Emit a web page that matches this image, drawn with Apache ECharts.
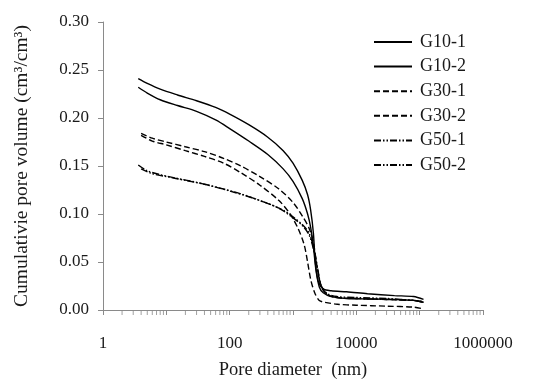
<!DOCTYPE html>
<html>
<head>
<meta charset="utf-8">
<script src="https://cdn.jsdelivr.net/npm/echarts@6/dist/echarts.min.js"></script>
<style>html,body{margin:0;padding:0;background:#fff}#c{width:550px;height:385px}</style>
</head>
<body>
<div id="c"></div>
<script>
// ---- data (pore diameter in nm, cumulative pore volume in cm3/cm3) ----
const g10_1_x = [3.6, 5, 8, 15, 30, 60, 100, 200, 400, 700, 1000, 1400, 1700, 1900, 2100, 2250, 2500, 3000, 4000, 7000, 15000, 40000, 80000, 115000];
const g10_1_y = [0.241, 0.236, 0.230, 0.224, 0.218, 0.211, 0.204, 0.193, 0.180, 0.166, 0.153, 0.135, 0.120, 0.104, 0.080, 0.050, 0.030, 0.022, 0.020, 0.019, 0.017, 0.015, 0.014, 0.011];
const g10_2_x = [3.6, 5, 8, 15, 30, 60, 100, 200, 400, 700, 1000, 1400, 1700, 1900, 2100, 2300, 2600, 3000, 4000, 7000, 15000, 40000, 80000, 115000];
const g10_2_y = [0.232, 0.226, 0.219, 0.213, 0.207, 0.198, 0.189, 0.176, 0.162, 0.147, 0.134, 0.116, 0.100, 0.086, 0.066, 0.042, 0.024, 0.018, 0.014, 0.012, 0.0115, 0.011, 0.010, 0.008];
const g30_1_x = [4, 6, 10, 20, 40, 80, 150, 300, 600, 1000, 1400, 1800, 2100, 2400, 2800, 3500, 5000, 10000, 30000, 80000, 115000];
const g30_1_y = [0.184, 0.179, 0.175, 0.170, 0.165, 0.158, 0.150, 0.139, 0.126, 0.112, 0.098, 0.085, 0.070, 0.045, 0.025, 0.016, 0.013, 0.012, 0.011, 0.010, 0.008];
const g30_2_x = [4, 6, 10, 20, 40, 80, 150, 300, 600, 900, 1200, 1500, 1700, 1900, 2200, 2600, 3200, 5000, 10000, 30000, 80000, 115000];
const g30_2_y = [0.182, 0.176, 0.172, 0.166, 0.160, 0.153, 0.143, 0.130, 0.114, 0.100, 0.085, 0.068, 0.050, 0.032, 0.018, 0.010, 0.008, 0.006, 0.005, 0.004, 0.003, 0.001];
const g50_1_x = [3.6, 5, 8, 15, 30, 60, 100, 200, 400, 700, 1000, 1400, 1800, 2200, 2500, 2800, 3500, 5000, 10000, 30000, 80000, 115000];
const g50_1_y = [0.151, 0.145, 0.141, 0.137, 0.133, 0.128, 0.124, 0.118, 0.111, 0.104, 0.097, 0.089, 0.080, 0.060, 0.040, 0.025, 0.017, 0.014, 0.013, 0.012, 0.010, 0.009];
const g50_2_x = [4, 6, 10, 20, 40, 80, 150, 300, 600, 1000, 1400, 1800, 2200, 2500, 2800, 3500, 5000, 10000, 30000, 80000, 115000];
const g50_2_y = [0.147, 0.142, 0.139, 0.135, 0.131, 0.126, 0.121, 0.114, 0.106, 0.096, 0.088, 0.078, 0.058, 0.038, 0.024, 0.016, 0.013, 0.012, 0.011, 0.010, 0.008];

const seriesNames = ['G10-1', 'G10-2', 'G30-1', 'G30-2', 'G50-1', 'G50-2'];
const xMin = 1, xMax = 1000000;
const yMin = 0, yMax = 0.30, yStep = 0.05;

// minor tick positions (2..9 within each decade)
const minorTicks = [];
for (let d = 1; d < xMax; d *= 10) {
  for (let k = 2; k <= 9; k++) minorTicks.push([k * d, 0]);
}

const zip = (xs, ys) => xs.map((x, i) => [x, ys[i]]);
const styles = {
  'G10-1': 'solid',
  'G10-2': 'solid',
  'G30-1': [6, 3],
  'G30-2': [6, 3],
  'G50-1': [7, 2, 1.5, 2, 1.5, 2],
  'G50-2': [7, 2, 1.5, 2, 1.5, 2]
};
const dataMap = {
  'G10-1': zip(g10_1_x, g10_1_y),
  'G10-2': zip(g10_2_x, g10_2_y),
  'G30-1': zip(g30_1_x, g30_1_y),
  'G30-2': zip(g30_2_x, g30_2_y),
  'G50-1': zip(g50_1_x, g50_1_y),
  'G50-2': zip(g50_2_x, g50_2_y)
};

const FONT = '"Liberation Serif", serif';
const TXT = '#1a1a1a';
const AX = '#8a8a8a';

const series = seriesNames.map(n => ({
  name: n,
  type: 'line',
  data: dataMap[n],
  smooth: 0.3,
  symbol: 'none',
  showSymbol: false,
  lineStyle: { color: '#000', width: 1.4, type: styles[n] },
  itemStyle: { color: '#000' },
  z: 3
}));
series.push({
  name: 'minorTicks',
  type: 'scatter',
  data: minorTicks,
  symbol: 'rect',
  symbolSize: [1, 5],
  symbolOffset: [0, 2.5],
  itemStyle: { color: AX },
  silent: true,
  clip: false,
  z: 1
});

const chart = echarts.init(document.getElementById('c'), null, { renderer: 'canvas' });
chart.setOption({
  animation: false,
  backgroundColor: '#fff',
  grid: { left: 103, right: 67, top: 22, bottom: 75, containLabel: false },
  legend: {
    data: seriesNames,
    orient: 'vertical',
    left: 368,
    top: 28,
    itemWidth: 38,
    itemHeight: 14,
    itemGap: 6.6,
    itemStyle: { opacity: 0 },
    textStyle: { fontFamily: FONT, fontSize: 18, color: TXT, padding: [0, 0, 0, 3] },
    inactiveColor: '#000'
  },
  xAxis: {
    type: 'log',
    logBase: 10,
    min: xMin,
    max: xMax,
    name: 'Pore diameter  (nm)',
    nameLocation: 'middle',
    nameGap: 51,
    nameTextStyle: { fontFamily: FONT, fontSize: 18.5, color: TXT },
    axisLine: { show: true, lineStyle: { color: AX, width: 1 } },
    axisTick: { show: true, interval: 0, inside: false, length: 5, lineStyle: { color: AX } },
    splitLine: { show: false },
    axisLabel: {
      margin: 25,
      interval: 0,
      fontFamily: FONT, fontSize: 17, color: TXT,
      formatter: v => (Math.round(Math.log10(v)) % 2 === 0 ? String(Math.round(v)) : '')
    }
  },
  yAxis: {
    type: 'value',
    min: yMin,
    max: yMax,
    interval: yStep,
    name: 'Cumulativie pore volume (cm³/cm³)',
    nameLocation: 'middle',
    nameGap: 71,
    nameTextStyle: { fontFamily: FONT, fontSize: 19.5, color: TXT },
    axisLine: { show: true, lineStyle: { color: AX, width: 1 } },
    axisTick: { show: true, inside: false, length: 5, lineStyle: { color: AX } },
    splitLine: { show: false },
    axisLabel: {
      margin: 14,
      fontFamily: FONT, fontSize: 17, color: TXT,
      formatter: v => v.toFixed(2)
    }
  },
  series: series
});
</script>
</body>
</html>
